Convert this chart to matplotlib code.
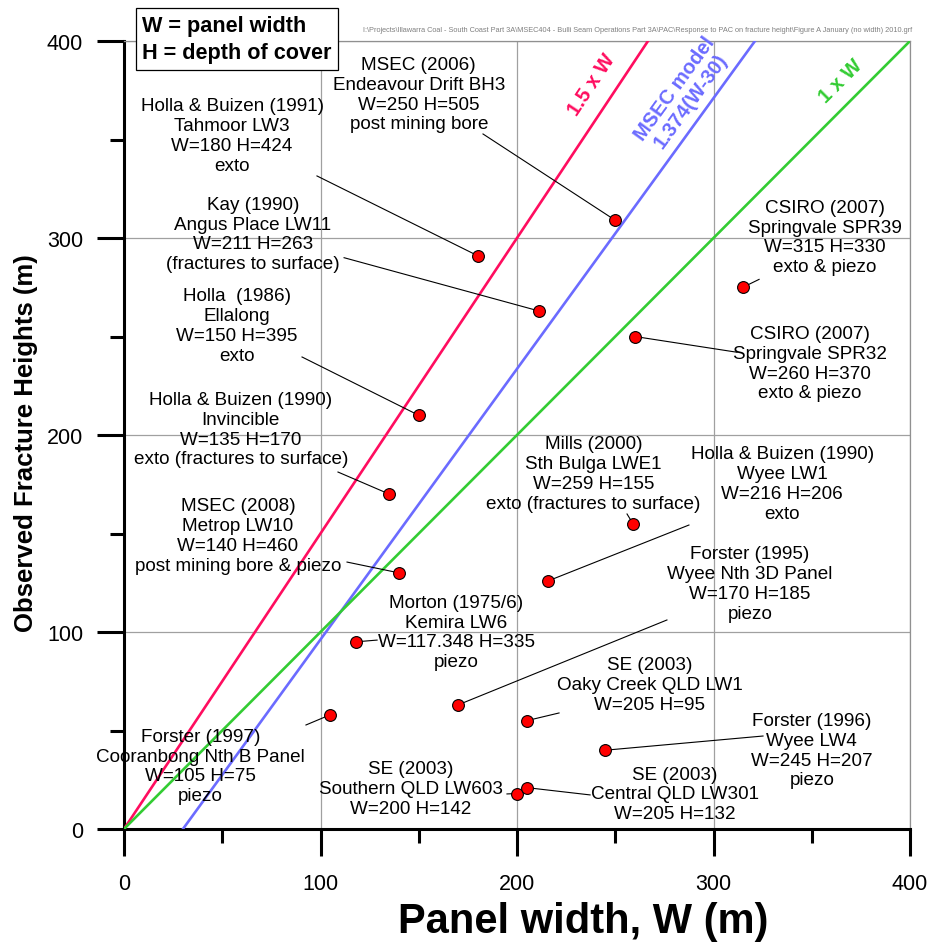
"""Observed fracture heights against panel width, with the 1 x W, 1.5 x W and MSEC model lines."""

import numpy as np
import matplotlib
matplotlib.use('Agg')
import matplotlib.pyplot as plt

plt.rcParams['font.family'] = ['Liberation Sans', 'DejaVu Sans']

# Case studies (label text, panel width W, observed fracture height)
studies = [
    'MSEC (2006)\nEndeavour Drift BH3\nW=250 H=505\npost mining bore',
    'Holla & Buizen (1991)\nTahmoor LW3\nW=180 H=424\nexto',
    'Kay (1990)\nAngus Place LW11\nW=211 H=263\n(fractures to surface)',
    'Holla  (1986)\nEllalong\nW=150 H=395\nexto',
    'Holla & Buizen (1990)\nInvincible\nW=135 H=170\nexto (fractures to surface)',
    'MSEC (2008)\nMetrop LW10\nW=140 H=460\npost mining bore & piezo',
    'Morton (1975/6)\nKemira LW6\nW=117.348 H=335\npiezo',
    'Forster (1997)\nCooranbong Nth B Panel\nW=105 H=75\npiezo',
    'SE (2003)\nSouthern QLD LW603\nW=200 H=142',
    'Mills (2000)\nSth Bulga LWE1\nW=259 H=155\nexto (fractures to surface)',
    'Holla & Buizen (1990)\nWyee LW1\nW=216 H=206\nexto',
    'Forster (1995)\nWyee Nth 3D Panel\nW=170 H=185\npiezo',
    'SE (2003)\nOaky Creek QLD LW1\nW=205 H=95',
    'Forster (1996)\nWyee LW4\nW=245 H=207\npiezo',
    'SE (2003)\nCentral QLD LW301\nW=205 H=132',
    'CSIRO (2007)\nSpringvale SPR39\nW=315 H=330\nexto & piezo',
    'CSIRO (2007)\nSpringvale SPR32\nW=260 H=370\nexto & piezo',
]
panel_w = [250, 180, 211, 150, 135, 140, 118, 105, 200, 259, 216, 170, 205, 245, 205, 315, 260]
frac_h = [309, 291, 263, 210, 170, 130, 95, 58, 18, 155, 126, 63, 55, 40, 21, 275, 250]

# Where each label sits and where its leader line starts (data units)
label_xy = [
    (150, 373), (55, 352), (65.5, 302), (57.5, 255.5), (59.5, 203), (58, 149),
    (169, 100), (39, 32), (146, 20.5), (239, 180.5), (335, 175.5), (318.5, 124.5),
    (267.5, 73.5), (350, 40), (280.5, 17.8), (356.5, 300.5), (349, 236.5),
]
leader_xy = [
    (182.7, 352.8), (98.2, 331.5), (112, 290), (90.6, 239.6), (108.9, 181.2), (113.5, 135.5),
    (128.8, 95.9), (92.6, 52.8), (194.9, 17.8), (256, 159.9), (287.5, 154.3), (276.3, 106.1),
    (221.4, 58.9), (325.2, 47.2), (237.2, 17.3), (323.2, 279), (312, 242),
]

# Reference lines
line_w = np.array([0, 400])
msec_w = np.array([30, 400])

file_path = ('I:\\Projects\\Illawarra Coal - South Coast Part 3A\\MSEC404 - Bulli Seam Operations Part 3A'
             '\\PAC\\Response to PAC on fracture height\\Figure A January (no width) 2010.grf')


def main():
    fig = plt.figure(figsize=(9.32, 9.45), dpi=100)
    ax = fig.add_axes([124 / 932, 1 - 830 / 945, 786 / 932, 788 / 945])

    red, blue, green = '#ff0d5f', '#6b6bff', '#33cc33'
    ax.plot(line_w, 1.5 * line_w, color=red, lw=1.9, zorder=3)
    ax.plot(msec_w, 1.374 * (msec_w - 30), color=blue, lw=1.9, zorder=3)
    ax.plot(line_w, line_w, color=green, lw=1.9, zorder=3)

    # Leader lines then the points on top
    for (sx, sy), w, h in zip(leader_xy, panel_w, frac_h):
        ax.plot([sx, w], [sy, h], color='black', lw=0.8, zorder=4)
    ax.plot(panel_w, frac_h, 'o', ms=8.5, mfc='red', mec='black', mew=0.8, zorder=5)

    for txt, (tx, ty) in zip(studies, label_xy):
        ax.text(tx, ty, txt, ha='center', va='center', multialignment='center',
                fontsize=13.6, linespacing=1.22, zorder=6)

    # Rotated line labels
    ax.text(238, 378, '1.5 x W', color=red, fontsize=14.5, fontweight='bold',
            rotation=np.degrees(np.arctan(1.5)), transform_rotates_text=True,
            ha='center', va='center', rotation_mode='anchor')
    ax.text(284.5, 373, 'MSEC model\n1.374(W-30)', color=blue, fontsize=14.5, fontweight='bold',
            rotation=np.degrees(np.arctan(1.374)), transform_rotates_text=True,
            ha='center', va='center', rotation_mode='anchor', linespacing=1.05)
    ax.text(364.5, 380, '1 x W', color=green, fontsize=14.5, fontweight='bold',
            rotation=45, transform_rotates_text=True,
            ha='center', va='center', rotation_mode='anchor')

    # Axes
    ax.set_xlim(0, 400)
    ax.set_ylim(0, 400)
    ax.set_xticks([0, 100, 200, 300, 400])
    ax.set_yticks([0, 100, 200, 300, 400])
    ax.set_xticks(np.arange(50, 400, 100), minor=True)
    ax.set_yticks(np.arange(50, 400, 100), minor=True)
    ax.grid(True, which='major', color='#a0a0a0', lw=0.9, zorder=0)
    ax.set_axisbelow(True)
    ax.tick_params(which='major', direction='out', length=19.5, width=2.2, labelsize=15.5)
    ax.tick_params(axis='x', which='major', pad=12)
    ax.tick_params(axis='y', which='major', pad=10)
    ax.tick_params(which='minor', direction='out', length=10, width=2.2)
    for side in ('left', 'bottom'):
        ax.spines[side].set_linewidth(2.2)
    for side in ('top', 'right'):
        ax.spines[side].set_linewidth(0.9)
        ax.spines[side].set_color('#909090')

    ax.set_xlabel('Panel width, W (m)', fontsize=30, fontweight='bold')
    ax.xaxis.set_label_coords(0.584, -0.117)
    ax.xaxis.label.set_verticalalignment('center')
    ax.set_ylabel('Observed Fracture Heights (m)', fontsize=18.5, fontweight='bold')
    ax.yaxis.set_label_coords(-0.125, 0.491)
    ax.yaxis.label.set_verticalalignment('center')

    # Key box and file path
    fig.text(142 / 932, 1 - 40 / 945, 'W = panel width\nH = depth of cover', fontsize=15.6,
             fontweight='bold', ha='left', va='center', linespacing=1.4,
             bbox=dict(boxstyle='square,pad=0.3', fc='white', ec='black', lw=0.9))
    fig.text(912 / 932, 1 - 31 / 945, file_path, fontsize=5.3, color='#808080', ha='right', va='center')

    fig.savefig('out.png', dpi=100)


if __name__ == '__main__':
    main()
